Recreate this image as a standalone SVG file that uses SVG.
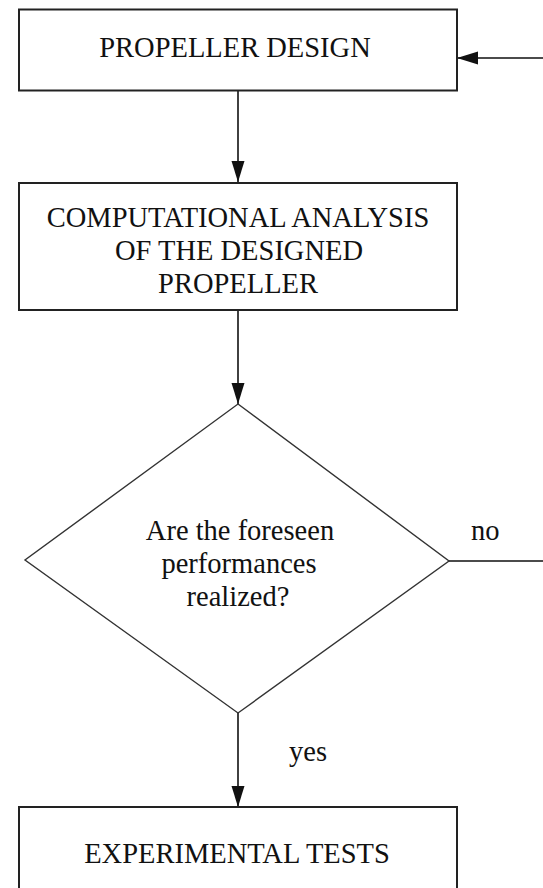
<svg xmlns="http://www.w3.org/2000/svg" width="543" height="888" viewBox="0 0 543 888">
  <style>
    .box { fill: #ffffff; stroke: #222222; stroke-width: 2; }
    .dia { fill: #ffffff; stroke: #333333; stroke-width: 1.4; }
    text { font-family: 'Liberation Serif', 'Times New Roman', Times, serif; font-size: 28.5px; fill: #111111; }
    .txt { text-anchor: middle; }
    .conn { fill: none; stroke: #111111; stroke-width: 1.6; }
  </style>
  <defs>
    <marker id="arrow" markerUnits="userSpaceOnUse" markerWidth="22" markerHeight="14" refX="21" refY="7" orient="auto">
      <path d="M0,0.5 L21,7 L0,13.5 z" fill="#111111"/>
    </marker>
  </defs>
  <rect width="543" height="888" fill="#ffffff"/>

  <g id="connectors">
    <line class="conn" x1="238" y1="91" x2="238" y2="182" marker-end="url(#arrow)"/>
    <line class="conn" x1="238" y1="311" x2="238" y2="404" marker-end="url(#arrow)"/>
    <line class="conn" x1="238" y1="713" x2="238" y2="807" marker-end="url(#arrow)"/>
    <path class="conn" d="M449,561 H546 V58 H457" marker-end="url(#arrow)"/>
  </g>

  <g id="node-design">
    <rect class="box" x="19" y="9.5" width="438" height="81"/>
    <text class="txt" x="235" y="57" font-family="Liberation Serif, serif">PROPELLER DESIGN</text>
  </g>

  <g id="node-analysis">
    <rect class="box" x="19" y="183" width="438" height="127"/>
    <text class="txt" x="238" y="227" font-family="Liberation Serif, serif">COMPUTATIONAL ANALYSIS</text>
    <text class="txt" x="239" y="260" font-family="Liberation Serif, serif">OF THE DESIGNED</text>
    <text class="txt" x="238" y="293" font-family="Liberation Serif, serif">PROPELLER</text>
  </g>

  <g id="node-decision">
    <polygon class="dia" points="238,404 449,561 238,713 25,560"/>
    <text class="txt" x="240" y="540" font-family="Liberation Serif, serif">Are the foreseen</text>
    <text class="txt" x="239" y="573" font-family="Liberation Serif, serif">performances</text>
    <text class="txt" x="238" y="606" font-family="Liberation Serif, serif">realized?</text>
  </g>

  <g id="label-no">
    <text x="471" y="540" font-family="Liberation Serif, serif">no</text>
  </g>
  <g id="label-yes">
    <text x="289" y="761" font-family="Liberation Serif, serif">yes</text>
  </g>

  <g id="node-tests">
    <rect class="box" x="19" y="807" width="438" height="100"/>
    <text class="txt" x="237" y="863" font-family="Liberation Serif, serif">EXPERIMENTAL TESTS</text>
  </g>
</svg>
